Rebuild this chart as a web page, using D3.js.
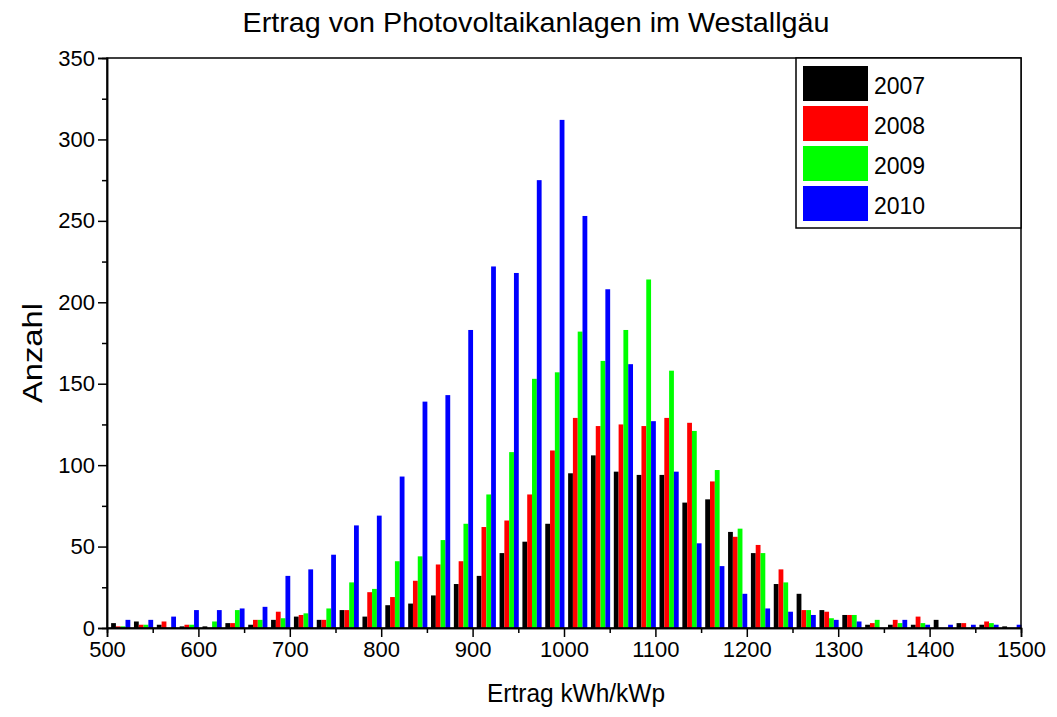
<!DOCTYPE html>
<html><head><meta charset="utf-8">
<script src="https://cdn.jsdelivr.net/npm/d3@7/dist/d3.min.js"></script>
<style>body{margin:0;background:#fff;}svg{display:block;font-family:"Liberation Sans",Arial,sans-serif;}</style>
</head><body>
<svg id="c" width="1057" height="717"></svg>
<script>
const title = "Ertrag von Photovoltaikanlagen im Westallgäu";
const xLabel = "Ertrag kWh/kWp";
const yLabel = "Anzahl";
const series = ["2007", "2008", "2009", "2010"];
const colors = ["#000000", "#ff0000", "#00ff00", "#0000ff"];
const binCenters = [515,540,565,590,615,640,665,690,715,740,765,790,815,840,865,890,915,940,965,990,
  1015,1040,1065,1090,1115,1140,1165,1190,1215,1240,1265,1290,1315,1340,1365,1390,1415,1440,1465,1490];
const v2007 = [3,4,2,1,1,3,2,5,7,5,11,7,14,15,20,27,32,46,53,64,95,106,96,94,94,77,79,59,46,27,21,11,8,2,2,2,5,3,2,1];
const v2008 = [1,2,4,2,0,3,5,10,8,5,11,22,19,29,39,41,62,66,82,109,129,124,125,124,129,126,90,56,51,36,11,10,8,3,5,7,0,3,4,0];
const v2009 = [1,2,0,2,4,11,5,6,9,12,28,24,41,44,54,64,82,108,153,157,182,164,183,214,158,121,97,61,46,28,11,6,8,5,3,3,0,0,3,0];
const v2010 = [5,5,7,11,11,12,13,32,36,45,63,69,93,139,143,183,222,218,275,312,253,208,162,127,96,52,38,21,12,10,8,5,4,0,5,2,2,2,2,2];
const xTicks = [500,600,700,800,900,1000,1100,1200,1300,1400,1500];
const yTicks = [0,50,100,150,200,250,300,350];

const values = [v2007, v2008, v2009, v2010];
const svg = d3.select("#c");
const L = 107, R = 1021, T = 58, B = 628;
const x = d3.scaleLinear().domain([500, 1500]).range([L, R]);
const y = d3.scaleLinear().domain([0, 350]).range([B, T]);
const groupUnits = 21;
const inner = d3.scaleBand().domain(series).range([-groupUnits / 2, groupUnits / 2]).padding(0);

// bars
series.forEach((s, si) => {
  svg.append("g").selectAll("rect").data(binCenters.map((c, i) => ({c, v: values[si][i]})))
    .join("rect")
    .attr("x", d => x(d.c + inner(s)))
    .attr("width", d => x(d.c + inner(s) + inner.bandwidth()) - x(d.c + inner(s)))
    .attr("y", d => y(d.v))
    .attr("height", d => y(0) - y(d.v))
    .attr("fill", colors[si]);
});

// frame
svg.append("rect").attr("x", L).attr("y", T).attr("width", R - L).attr("height", B - T)
  .attr("fill", "none").attr("stroke", "#000").attr("stroke-width", 1.5);

// axes
const fontSize = 22;
const yAxis = d3.axisLeft(y).tickValues(yTicks).tickSize(9).tickPadding(3);
const gy = svg.append("g").attr("transform", `translate(${L},0)`).call(yAxis);
const yMinor = d3.axisLeft(y).tickValues(d3.range(25, 350, 50)).tickSize(5).tickFormat("");
const gym = svg.append("g").attr("transform", `translate(${L},0)`).call(yMinor);
const xAxis = d3.axisBottom(x).tickValues(xTicks).tickSize(9).tickPadding(4).tickFormat(d3.format("d"));
const gx = svg.append("g").attr("transform", `translate(0,${B})`).call(xAxis);
const xMinor = d3.axisBottom(x).tickValues(d3.range(550, 1500, 100)).tickSize(5).tickFormat("");
const gxm = svg.append("g").attr("transform", `translate(0,${B})`).call(xMinor);
[gy, gym, gx, gxm].forEach(g => {
  g.select(".domain").attr("stroke-width", 1.5);
  g.selectAll(".tick line").attr("stroke-width", 1.5);
  g.selectAll("text").attr("font-size", fontSize).attr("font-family", "Liberation Sans, Arial, sans-serif").attr("fill", "#000");
});

// titles
svg.append("text").attr("x", 536).attr("y", 32).attr("text-anchor", "middle")
  .attr("font-size", 28).attr("textLength", 587).attr("lengthAdjust", "spacingAndGlyphs").text(title);
svg.append("text").attr("x", 576).attr("y", 702).attr("text-anchor", "middle")
  .attr("font-size", 25).attr("textLength", 178).attr("lengthAdjust", "spacingAndGlyphs").text(xLabel);
svg.append("text").attr("transform", "translate(42,353) rotate(-90)").attr("text-anchor", "middle")
  .attr("font-size", 28).attr("textLength", 100).attr("lengthAdjust", "spacingAndGlyphs").text(yLabel);

// legend
const lg = svg.append("g");
lg.append("rect").attr("x", 796).attr("y", T).attr("width", R - 796).attr("height", 170)
  .attr("fill", "#fff").attr("stroke", "#000").attr("stroke-width", 1.5);
series.forEach((s, i) => {
  lg.append("rect").attr("x", 803).attr("y", 66 + i * 40).attr("width", 65).attr("height", 35).attr("fill", colors[i]);
  lg.append("text").attr("x", 874).attr("y", 94 + i * 40).attr("font-size", 23).text(s);
});
</script>
</body></html>
